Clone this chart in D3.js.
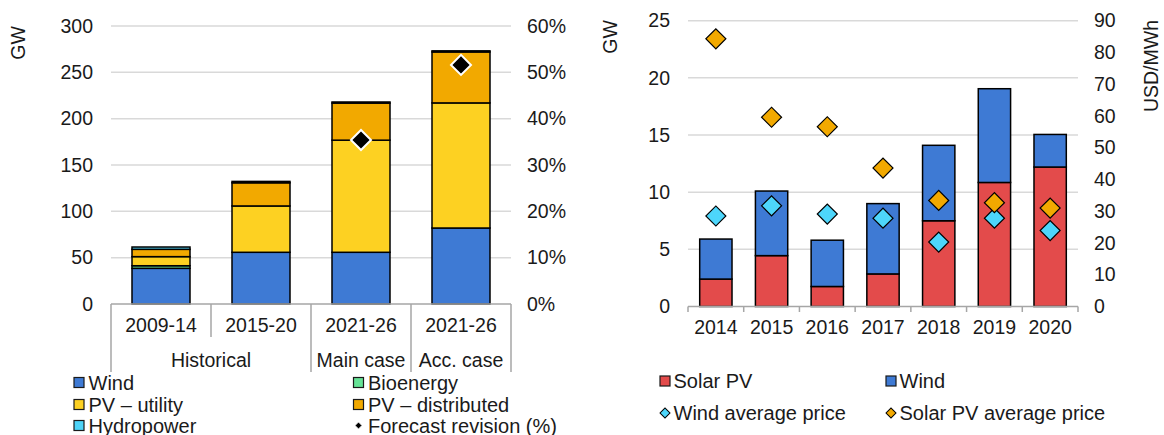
<!DOCTYPE html>
<html>
<head>
<meta charset="utf-8">
<script src="https://cdn.jsdelivr.net/npm/d3@7"></script>
<style>
  html, body { margin: 0; padding: 0; background: #fff; }
  svg { display: block; font-family: "Liberation Sans", Arial, sans-serif; }
  text { fill: #1a1a1a; }
</style>
</head>
<body>
<svg id="chart" width="1164" height="435"></svg>
<script>
// ---------- Left chart data ----------
const leftCategories = ["2009-14", "2015-20", "2021-26", "2021-26"];
const leftGroups = [
  { label: "Historical", from: 0, to: 1 },
  { label: "Main case", from: 2, to: 2 },
  { label: "Acc. case", from: 3, to: 3 }
];
const leftSeriesNames = ["Wind", "Bioenergy", "PV – utility", "PV – distributed", "Hydropower"];
const windGW       = [38.5, 55.8, 55.8, 82];
const bioenergyGW  = [2.8,  0,    0,    0];
const pvUtilityGW  = [9.8,  50,   121,  135];
const pvDistribGW  = [7.9,  25,   40,   55];
const hydroGW      = [2.5,  1.5,  1.2,  1.2];
const forecastRevision = [null, null, 35.4, 51.6];
const leftGWTicks  = [0, 50, 100, 150, 200, 250, 300];
const leftPctTicks = [0, 10, 20, 30, 40, 50, 60];

// ---------- Right chart data ----------
const years = ["2014", "2015", "2016", "2017", "2018", "2019", "2020"];
const solarPVGW = [2.4, 4.45, 1.75, 2.85, 7.5, 10.85, 12.2];
const windAddGW = [3.5, 5.65, 4.05, 6.15, 6.6, 8.2, 2.85];
const windPrice = [28.5, 31.7, 29.1, 27.8, 20.3, 27.8, 23.9];
const solarPrice = [84.3, 59.6, 56.6, 43.6, 33.4, 32.7, 31.0];
const rightGWTicks = [0, 5, 10, 15, 20, 25];
const rightPriceTicks = [0, 10, 20, 30, 40, 50, 60, 70, 80, 90];

// ---------- Styles ----------
const colors = {
  wind: "#3e7ad4",
  bio: "#66e396",
  pvu: "#fdd122",
  pvd: "#f2a900",
  hydro: "#4ed3f7",
  solar: "#e34b4b",
  windPrice: "#4dd6fb",
  solarPrice: "#f2a900"
};
const leftColors = [colors.wind, colors.bio, colors.pvu, colors.pvd, colors.hydro];
const FS = 19.5;
const LFS = 20;
const gridColor = "#d9d9d9";
const axisColor = "#a6a6a6";

const svg = d3.select("#chart");

function diamond(size) {
  return d3.symbol().type(d3.symbolSquare).size(size)();
}

// =============== LEFT CHART ===============
(function() {
  const x = d3.scaleBand().domain(d3.range(leftCategories.length))
    .range([111, 511]).paddingInner(0.42).paddingOuter(0.21);
  const y = d3.scaleLinear().domain([0, 300]).range([304, 26]);
  const yPct = d3.scaleLinear().domain([0, 60]).range([304, 26]);
  const g = svg.append("g");

  g.append("g").selectAll("line").data(leftGWTicks.filter(d => d > 0)).join("line")
    .attr("x1", 111).attr("x2", 511)
    .attr("y1", d => y(d)).attr("y2", d => y(d))
    .attr("stroke", gridColor).attr("stroke-width", 1.5);

  const ax = g.append("g").attr("transform", "translate(111,0)")
    .call(d3.axisLeft(y).tickValues(leftGWTicks).tickSize(0).tickPadding(18));
  ax.select(".domain").remove();
  ax.selectAll("text").attr("font-size", FS).attr("fill", "#1a1a1a").attr("font-family", "Liberation Sans, Arial");

  const axr = g.append("g").attr("transform", "translate(511,0)")
    .call(d3.axisRight(yPct).tickValues(leftPctTicks).tickSize(0).tickPadding(16).tickFormat(d => d + "%"));
  axr.select(".domain").remove();
  axr.selectAll("text").attr("font-size", FS).attr("fill", "#1a1a1a").attr("font-family", "Liberation Sans, Arial");

  g.append("text").attr("transform", "translate(25,43) rotate(-90)")
    .attr("text-anchor", "middle").attr("font-size", FS).text("GW");

  const rows = leftCategories.map((c, i) => ({
    i, s0: windGW[i], s1: bioenergyGW[i], s2: pvUtilityGW[i], s3: pvDistribGW[i], s4: hydroGW[i]
  }));
  const stack = d3.stack().keys(["s0", "s1", "s2", "s3", "s4"])(rows);
  stack.forEach((layer, li) => {
    g.append("g").selectAll("rect").data(layer.filter(d => d[1] - d[0] > 0)).join("rect")
      .attr("x", d => x(d.data.i))
      .attr("width", x.bandwidth())
      .attr("y", d => y(d[1]))
      .attr("height", d => y(d[0]) - y(d[1]))
      .attr("fill", leftColors[li])
      .attr("stroke", "#000").attr("stroke-width", 1.5);
  });

  const axG = g.append("g").attr("stroke", axisColor).attr("stroke-width", 1.5);
  axG.append("line").attr("x1", 111).attr("x2", 511).attr("y1", 304).attr("y2", 304);
  const step = x.step();
  const bounds = d3.range(leftCategories.length + 1).map(k => 111 + k * step);
  const groupEdges = new Set();
  leftGroups.forEach(gr => { groupEdges.add(gr.from); groupEdges.add(gr.to + 1); });
  bounds.forEach((bx, k) => {
    axG.append("line").attr("x1", bx).attr("x2", bx).attr("y1", 304)
      .attr("y2", groupEdges.has(k) ? 372 : 337);
  });
  g.append("g").selectAll("text").data(leftCategories).join("text")
    .attr("x", (d, i) => x(i) + x.bandwidth() / 2).attr("y", 325).attr("dy", "0.35em")
    .attr("text-anchor", "middle").attr("font-size", FS).text(d => d);
  g.append("g").selectAll("text").data(leftGroups).join("text")
    .attr("x", d => (bounds[d.from] + bounds[d.to + 1]) / 2).attr("y", 360).attr("dy", "0.35em")
    .attr("text-anchor", "middle").attr("font-size", FS).text(d => d.label);

  g.append("g").selectAll("path").data(forecastRevision.map((v, i) => ({ v, i })).filter(d => d.v != null)).join("path")
    .attr("d", diamond(200))
    .attr("transform", d => `translate(${x(d.i) + x.bandwidth() / 2},${yPct(d.v)}) rotate(45)`)
    .attr("fill", "#000").attr("stroke", "#fff").attr("stroke-width", 2);

  const legendItems = [
    { name: leftSeriesNames[0], color: colors.wind, col: 0, row: 0 },
    { name: leftSeriesNames[1], color: colors.bio, col: 1, row: 0 },
    { name: leftSeriesNames[2], color: colors.pvu, col: 0, row: 1 },
    { name: leftSeriesNames[3], color: colors.pvd, col: 1, row: 1 },
    { name: leftSeriesNames[4], color: colors.hydro, col: 0, row: 2 },
  ];
  const colX = [74, 353.5];
  const rowY = [382.5, 404.5, 425.5];
  const lg = g.append("g");
  legendItems.forEach(it => {
    lg.append("rect").attr("x", colX[it.col]).attr("y", rowY[it.row] - 5)
      .attr("width", 10).attr("height", 10).attr("fill", it.color)
      .attr("stroke", "#1a1a1a").attr("stroke-width", 1.2);
    lg.append("text").attr("x", colX[it.col] + 14.5).attr("y", rowY[it.row]).attr("dy", "0.35em")
      .attr("font-size", LFS).text(it.name);
  });
  lg.append("path").attr("d", diamond(24))
    .attr("transform", `translate(${colX[1] + 5},${rowY[2]}) rotate(45)`)
    .attr("fill", "#000").attr("stroke", "#fff").attr("stroke-width", 0.8);
  lg.append("text").attr("x", colX[1] + 14.5).attr("y", rowY[2]).attr("dy", "0.35em")
    .attr("font-size", LFS).text("Forecast revision (%)");
})();

// =============== RIGHT CHART ===============
(function() {
  const x = d3.scaleBand().domain(years).range([688, 1078]).paddingInner(0.42).paddingOuter(0.21);
  const y = d3.scaleLinear().domain([0, 25]).range([306.5, 20.7]);
  const yP = d3.scaleLinear().domain([0, 90]).range([306.5, 20.7]);
  const g = svg.append("g");

  g.append("g").selectAll("line").data(rightGWTicks.filter(d => d > 0)).join("line")
    .attr("x1", 688).attr("x2", 1078)
    .attr("y1", d => y(d)).attr("y2", d => y(d))
    .attr("stroke", gridColor).attr("stroke-width", 1.5);

  const ax = g.append("g").attr("transform", "translate(688,0)")
    .call(d3.axisLeft(y).tickValues(rightGWTicks).tickSize(0).tickPadding(18));
  ax.select(".domain").remove();
  ax.selectAll("text").attr("font-size", FS).attr("fill", "#1a1a1a").attr("font-family", "Liberation Sans, Arial");

  const axr = g.append("g").attr("transform", "translate(1078,0)")
    .call(d3.axisRight(yP).tickValues(rightPriceTicks).tickSize(0).tickPadding(16));
  axr.select(".domain").remove();
  axr.selectAll("text").attr("font-size", FS).attr("fill", "#1a1a1a").attr("font-family", "Liberation Sans, Arial");

  g.append("text").attr("transform", "translate(617,37) rotate(-90)")
    .attr("text-anchor", "middle").attr("font-size", FS).text("GW");
  g.append("text").attr("transform", "translate(1158,66) rotate(-90)")
    .attr("text-anchor", "middle").attr("font-size", FS).text("USD/MWh");

  const rows = years.map((yr, i) => ({ yr, solar: solarPVGW[i], wind: windAddGW[i] }));
  const stack = d3.stack().keys(["solar", "wind"])(rows);
  const cols = [colors.solar, colors.wind];
  stack.forEach((layer, li) => {
    g.append("g").selectAll("rect").data(layer).join("rect")
      .attr("x", d => x(d.data.yr)).attr("width", x.bandwidth())
      .attr("y", d => y(d[1])).attr("height", d => y(d[0]) - y(d[1]))
      .attr("fill", cols[li]).attr("stroke", "#000").attr("stroke-width", 1.5);
  });

  const axG = g.append("g").attr("stroke", axisColor).attr("stroke-width", 1.5);
  axG.append("line").attr("x1", 688).attr("x2", 1078).attr("y1", 306.5).attr("y2", 306.5);
  d3.range(years.length + 1).forEach(k => {
    const bx = 688 + k * x.step();
    axG.append("line").attr("x1", bx).attr("x2", bx).attr("y1", 306.5).attr("y2", 312);
  });
  g.append("g").selectAll("text").data(years).join("text")
    .attr("x", d => x(d) + x.bandwidth() / 2).attr("y", 327).attr("dy", "0.35em")
    .attr("text-anchor", "middle").attr("font-size", FS).text(d => d);

  g.append("g").selectAll("path").data(windPrice.map((v, i) => ({ v, yr: years[i] }))).join("path")
    .attr("d", diamond(200))
    .attr("transform", d => `translate(${x(d.yr) + x.bandwidth() / 2},${yP(d.v)}) rotate(45)`)
    .attr("fill", colors.windPrice).attr("stroke", "#000").attr("stroke-width", 1.2);
  g.append("g").selectAll("path").data(solarPrice.map((v, i) => ({ v, yr: years[i] }))).join("path")
    .attr("d", diamond(200))
    .attr("transform", d => `translate(${x(d.yr) + x.bandwidth() / 2},${yP(d.v)}) rotate(45)`)
    .attr("fill", colors.solarPrice).attr("stroke", "#000").attr("stroke-width", 1.2);

  const colX = [660, 886];
  const rowY = [381, 413];
  const lg = g.append("g");
  [{ n: "Solar PV", c: colors.solar, col: 0 }, { n: "Wind", c: colors.wind, col: 1 }].forEach(it => {
    lg.append("rect").attr("x", colX[it.col]).attr("y", rowY[0] - 5).attr("width", 10).attr("height", 10)
      .attr("fill", it.c).attr("stroke", "#1a1a1a").attr("stroke-width", 1.2);
    lg.append("text").attr("x", colX[it.col] + 13.5).attr("y", rowY[0]).attr("dy", "0.35em")
      .attr("font-size", LFS).text(it.n);
  });
  [{ n: "Wind average price", c: colors.windPrice, col: 0 }, { n: "Solar PV average price", c: colors.solarPrice, col: 1 }].forEach(it => {
    lg.append("path").attr("d", diamond(50))
      .attr("transform", `translate(${colX[it.col] + 5},${rowY[1]}) rotate(45)`)
      .attr("fill", it.c).attr("stroke", "#000").attr("stroke-width", 1);
    lg.append("text").attr("x", colX[it.col] + 13.5).attr("y", rowY[1]).attr("dy", "0.35em")
      .attr("font-size", LFS).text(it.n);
  });
})();
</script>
</body>
</html>
